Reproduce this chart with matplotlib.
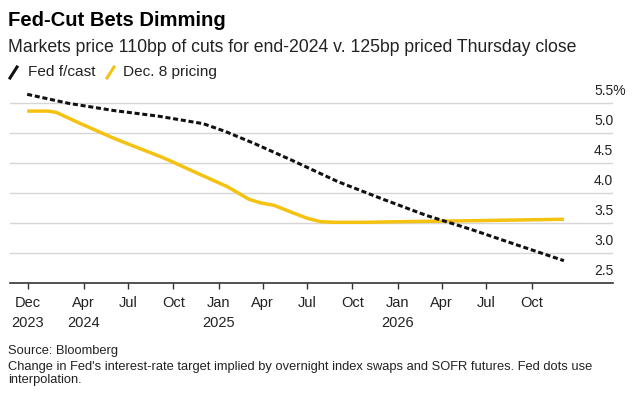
import matplotlib
matplotlib.use("Agg")
import matplotlib.pyplot as plt
import matplotlib.transforms as mtransforms
from matplotlib.lines import Line2D
import pandas as pd

plt.rcParams.update({
    "font.family": ["Liberation Sans", "DejaVu Sans"],
    "axes.linewidth": 1.0,
})

# ---- Data ----
fed_dates = ["2023-12-08", "2024-03-01", "2024-06-01", "2024-09-01", "2024-12-01",
             "2025-01-15", "2025-03-15", "2025-06-01", "2025-09-01", "2025-12-01",
             "2026-03-01", "2026-06-01", "2026-09-01", "2026-12-06"]
fed_rate = [5.65, 5.50, 5.38, 5.285, 5.16,
            5.03, 4.83, 4.545, 4.195, 3.905,
            3.63, 3.395, 3.14, 2.877]

mkt_dates = ["2023-12-08", "2024-01-20", "2024-02-05", "2024-03-18", "2024-05-26",
             "2024-06-22", "2024-09-05", "2024-09-25", "2024-11-12", "2025-01-19",
             "2025-03-04", "2025-03-28", "2025-04-24", "2025-06-04", "2025-07-01",
             "2025-07-28", "2025-08-24", "2025-10-31", "2026-01-07", "2026-05-30",
             "2026-12-06"]
mkt_rate = [5.37, 5.37, 5.35, 5.19, 4.94,
            4.85, 4.61, 4.54, 4.36, 4.11,
            3.90, 3.84, 3.80, 3.667, 3.583,
            3.527, 3.517, 3.517, 3.527, 3.543,
            3.567]

tick_dates = ["2023-12-09", "2024-04-01", "2024-07-01", "2024-10-01", "2025-01-01",
              "2025-04-01", "2025-07-01", "2025-10-01", "2026-01-01", "2026-04-01",
              "2026-07-01", "2026-10-01"]
tick_labels = ["Dec\n2023", "Apr\n2024", "Jul", "Oct", "Jan\n2025", "Apr", "Jul", "Oct",
               "Jan\n2026", "Apr", "Jul", "Oct"]

y_ticks = [2.5, 3.0, 3.5, 4.0, 4.5, 5.0, 5.5]
y_labels = ["2.5", "3.0", "3.5", "4.0", "4.5", "5.0", "5.5%"]

FED_COLOR = "#111111"
MKT_COLOR = "#f5c211"
TEXT = "#222222"

fig = plt.figure(figsize=(6.4, 3.95), dpi=100)
ax = fig.add_axes([10 / 640, 111.7 / 395, 603 / 640, 198 / 395])

ax.plot(pd.to_datetime(mkt_dates), mkt_rate, color=MKT_COLOR, lw=2.5,
        solid_capstyle="butt", solid_joinstyle="round", zorder=3)
ax.plot(pd.to_datetime(fed_dates), fed_rate, color=FED_COLOR, lw=2.2,
        linestyle=(0, (1.65, 0.9)), dash_capstyle="butt", zorder=4)

ax.set_xlim(pd.Timestamp("2023-11-03"), pd.Timestamp("2027-03-16"))
ax.set_ylim(2.5, 5.8)

# grid lines
for v in y_ticks[1:]:
    ax.axhline(v, color="#d6d6d6", lw=1.0, zorder=1)

for side in ["top", "right", "left"]:
    ax.spines[side].set_visible(False)
ax.spines["bottom"].set_color("#333333")
ax.spines["bottom"].set_linewidth(1.2)

ax.set_yticks([])
ax.set_xticks(pd.to_datetime(tick_dates))
ax.set_xticklabels(tick_labels, fontsize=10.5, color=TEXT, linespacing=1.55)
ax.tick_params(axis="x", direction="out", length=4, width=1, color="#333333", pad=5)

# y labels sit above their grid lines at the right
trans = mtransforms.offset_copy(ax.get_yaxis_transform(), fig=fig, x=0, y=8, units="dots")
for v, lab in zip(y_ticks, y_labels):
    ax.text(584 / 603, v, lab, transform=trans, ha="left", va="baseline",
            fontsize=10, color=TEXT)

# titles
fig.text(8 / 640, 1 - 20 / 395, "Fed-Cut Bets Dimming", fontsize=14.6,
         fontweight="bold", color="black", va="center", ha="left")
fig.text(8 / 640, 1 - 47 / 395,
         "Markets price 110bp of cuts for end-2024 v. 125bp priced Thursday close",
         fontsize=12.7, color=TEXT, va="center", ha="left")

# legend
def legend_mark(x0, color):
    fig.add_artist(Line2D([x0 / 640, (x0 + 7) / 640],
                          [1 - 78 / 395, 1 - 67 / 395],
                          color=color, lw=2.2, transform=fig.transFigure))

legend_mark(10, FED_COLOR)
fig.text(28 / 640, 1 - 72 / 395, "Fed f/cast", fontsize=11.1, color=TEXT,
         va="center", ha="left")
legend_mark(107, MKT_COLOR)
fig.text(123 / 640, 1 - 72 / 395, "Dec. 8 pricing", fontsize=11.1, color=TEXT,
         va="center", ha="left")

# footer
fig.text(8 / 640, 1 - 351 / 395, "Source: Bloomberg", fontsize=9.3, color=TEXT,
         va="center", ha="left")
fig.text(8 / 640, 1 - 367 / 395,
         "Change in Fed's interest-rate target implied by overnight index swaps and SOFR futures. Fed dots use",
         fontsize=9.3, color=TEXT, va="center", ha="left")
fig.text(8 / 640, 1 - 380 / 395, "interpolation.", fontsize=9.3, color=TEXT,
         va="center", ha="left")

fig.savefig("out.png", dpi=100)
